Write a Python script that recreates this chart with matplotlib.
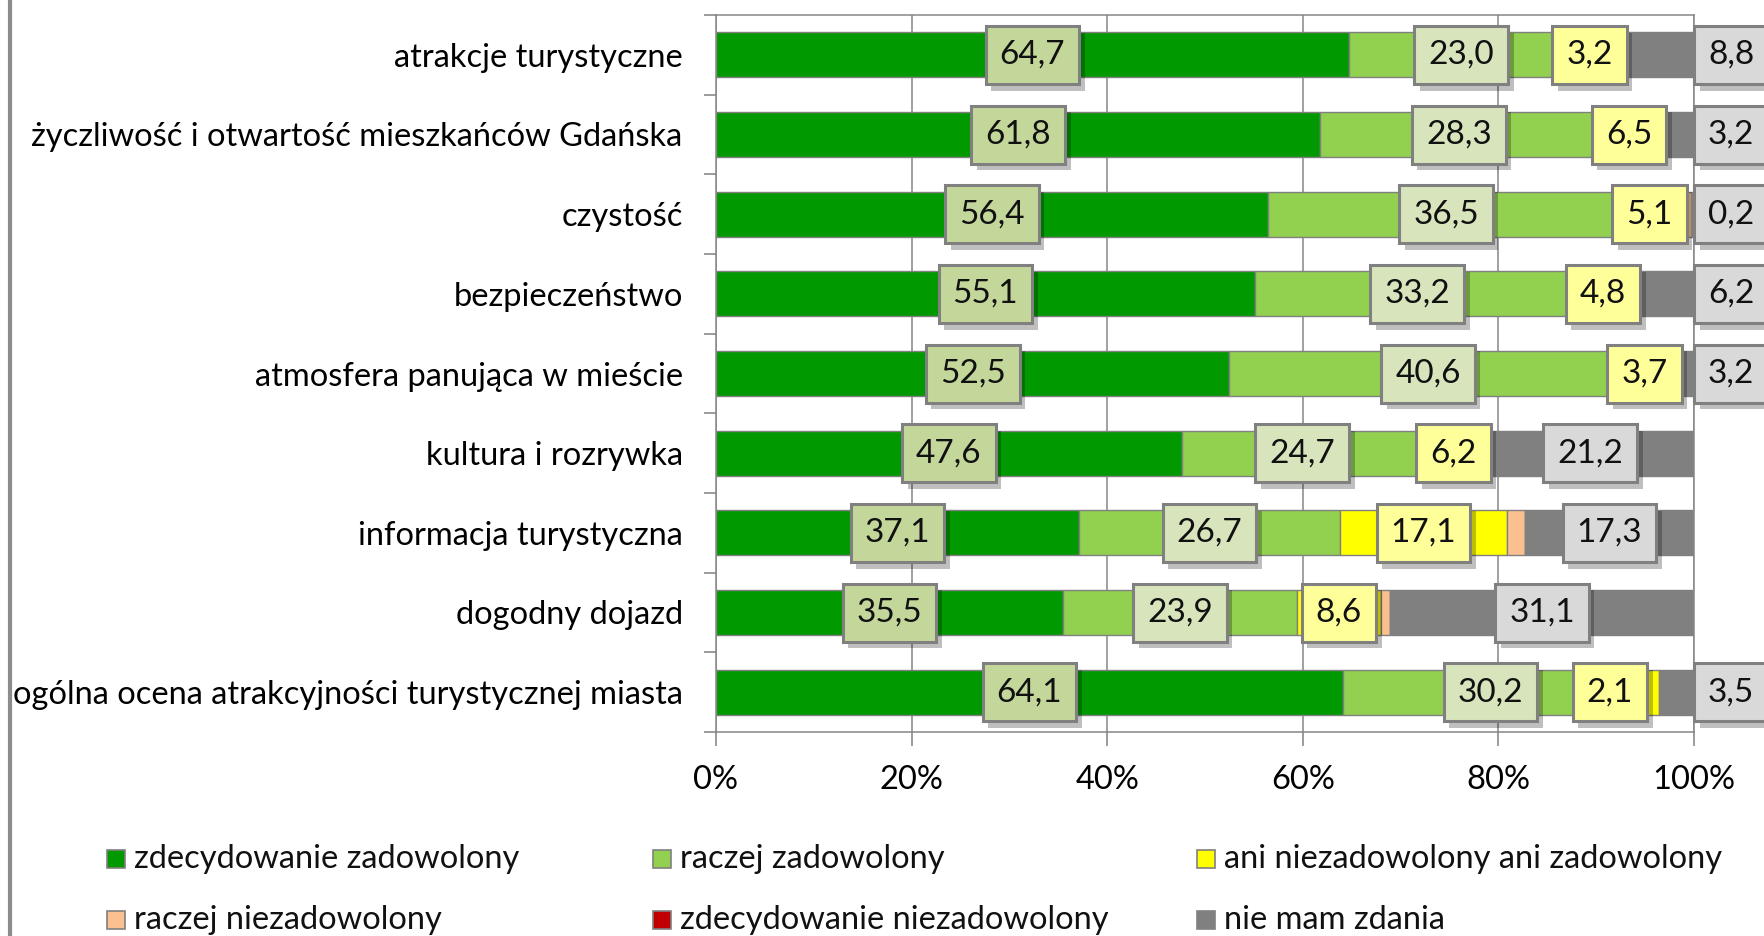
import matplotlib
matplotlib.use("Agg")
import matplotlib.pyplot as plt
import matplotlib.patheffects as pe
from matplotlib.patches import Rectangle
from matplotlib.lines import Line2D
import numpy as np

plt.rcParams['font.family'] = ['Lato', 'DejaVu Sans']

categories = ["atrakcje turystyczne",
              "życzliwość i otwartość mieszkańców Gdańska",
              "czystość",
              "bezpieczeństwo",
              "atmosfera panująca w mieście",
              "kultura i rozrywka",
              "informacja turystyczna",
              "dogodny dojazd",
              "ogólna ocena atrakcyjności turystycznej miasta"]

series_names = ["zdecydowanie zadowolony", "raczej zadowolony",
                "ani niezadowolony ani zadowolony", "raczej niezadowolony",
                "zdecydowanie niezadowolony", "nie mam zdania"]

zdec_zad = [64.7, 61.8, 56.4, 55.1, 52.5, 47.6, 37.1, 35.5, 64.1]
raczej_zad = [23.0, 28.3, 36.5, 33.2, 40.6, 24.7, 26.7, 23.9, 30.2]
ani = [3.2, 6.5, 5.1, 4.8, 3.7, 6.2, 17.1, 8.6, 2.1]
raczej_niezad = [0.3, 0.2, 1.8, 0.7, 0.0, 0.3, 1.8, 0.9, 0.1]
zdec_niezad = [0.0, 0.0, 0.0, 0.0, 0.0, 0.0, 0.0, 0.0, 0.0]
nie_mam = [8.8, 3.2, 0.2, 6.2, 3.2, 21.2, 17.3, 31.1, 3.5]

series = [zdec_zad, raczej_zad, ani, raczej_niezad, zdec_niezad, nie_mam]
bar_colors = ["#009900", "#92d050", "#ffff00", "#fac090", "#c00000", "#808080"]
box_colors = ["#c4d79b", "#d8e4bc", "#ffff99", None, None, "#d9d9d9"]

# manual label nudges (row, series) in % units
nudges = {(8, 2): -3.95}

FS = 23.5

fig = plt.figure(figsize=(17.65, 9.36), dpi=100)
ax = fig.add_axes([716/1765, 1-732/936, (1694-716)/1765, (732-15)/936])

y = np.arange(len(categories))
left = np.zeros(len(categories))
for vals, col in zip(series, bar_colors):
    ax.barh(y, vals, left=left, height=0.565, color=col,
            edgecolor="#808080", linewidth=1, zorder=2)
    left += np.array(vals)

# data labels
left = np.zeros(len(categories))
for s, (vals, bcol) in enumerate(zip(series, box_colors)):
    for i, v in enumerate(vals):
        if bcol is not None:
            xc = left[i] + v/2
            if s == 5 and v < 10:
                xc = 103.8
            xc += nudges.get((i, s), 0)
            txt = f"{v:.1f}".replace(".", ",")
            t = ax.text(xc, i, txt, ha="center", va="center", fontsize=24,
                        color="#111111", zorder=5, clip_on=False,
                        bbox=dict(boxstyle="square,pad=0.42", fc=bcol,
                                  ec="#808080", lw=2.2))
            t.get_bbox_patch().set_path_effects(
                [pe.withSimplePatchShadow(offset=(4, -5), shadow_rgbFace="k",
                                          alpha=0.25)])
    left += np.array(vals)

ax.set_xlim(0, 100)
ax.set_ylim(len(categories)-0.5, -0.5)
ax.set_xticks(np.arange(0, 101, 20))
ax.set_xticklabels([f"{t}%" for t in range(0, 101, 20)])
ax.set_yticks(y)
ax.set_yticklabels(categories)
ax.set_yticks(np.arange(-0.5, len(categories)), minor=True)
ax.tick_params(axis="y", which="major", length=0, pad=24, labelsize=FS)
ax.tick_params(axis="y", which="minor", length=9, color="#808080", width=1.1)
ax.tick_params(axis="x", length=10, color="#808080", width=1.1, pad=14,
               labelsize=FS)
ax.grid(axis="x", color="#868686", linewidth=1.1, zorder=0)
ax.set_axisbelow(True)
for sp in ax.spines.values():
    sp.set_color("#868686")
    sp.set_linewidth(1.1)

# legend (Excel style, 3 columns x 2 rows)
col_x = [107, 653, 1197]
row_y = [859, 920]
for k, (name, col) in enumerate(zip(series_names, bar_colors)):
    cx = col_x[k % 3]
    cy = row_y[k // 3]
    fig.patches.append(Rectangle((cx/1765, 1-(cy+9)/936), 18/1765, 18/936,
                                 transform=fig.transFigure, fc=col,
                                 ec="#808080", lw=1.2))
    fig.text((cx+27)/1765, 1-cy/936, name, fontsize=FS, va="center",
             ha="left", color="#111111")

# chart frame (left edge visible)
fig.lines.append(Line2D([10/1765, 10/1765], [0, 1], transform=fig.transFigure,
                        color="#8c8c8c", linewidth=3))

fig.savefig("out.png", dpi=100)
